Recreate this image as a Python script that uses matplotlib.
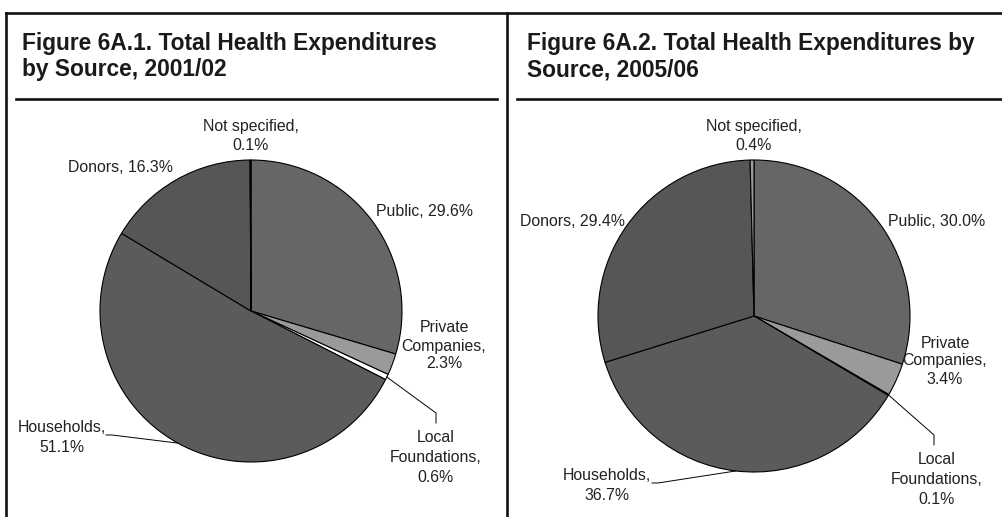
import numpy as np
import matplotlib
matplotlib.use("Agg")
import matplotlib.pyplot as plt

# Data (percent of total health expenditures)
sources = ["Public", "Private\nCompanies", "Local\nFoundations", "Households", "Donors", "Not specified"]
share_2001 = [29.6, 2.3, 0.6, 51.1, 16.3, 0.1]
share_2005 = [30.0, 3.4, 0.1, 36.7, 29.4, 0.4]
titles = ["Figure 6A.1. Total Health Expenditures\nby Source, 2001/02",
          "Figure 6A.2. Total Health Expenditures by\nSource, 2005/06"]
slice_colors = ["#666666", "#9a9a9a", "#ffffff", "#5b5b5b", "#565656", "#9a9a9a"]

W, H = 1002, 517
plt.rcParams['font.family'] = ['Liberation Sans', 'DejaVu Sans']

fig = plt.figure(figsize=(W / 100, H / 100), dpi=100)
ax = fig.add_axes([0, 0, 1, 1])


def Y(y):
    # image pixel row -> data y
    return H - y


def lines_text(x, ys, lines, size=11.4):
    for yy, s in zip(ys, lines):
        ax.text(x, Y(yy), s, ha="center", va="center", fontsize=size, color="#222222")


def edge_point(values, idx, cx, cy, r):
    # point on the rim at the middle of slice idx (clockwise from top)
    before = sum(values[:idx]) + values[idx] / 2
    ang = np.deg2rad(90 - 360 * before / sum(values))
    return cx + r * np.cos(ang), Y(cy) + r * np.sin(ang)


# pies
pies = [(share_2001, 251, 311, 151), (share_2005, 754, 316, 156)]
for vals, cx, cy, r in pies:
    ax.pie(vals, colors=slice_colors, startangle=90, counterclock=False,
           center=(cx, Y(cy)), radius=r,
           wedgeprops=dict(edgecolor="black", linewidth=0.8))

# frame lines
lw = 1.9
ax.plot([6, W], [Y(13), Y(13)], color="#111111", lw=lw)
ax.plot([6, 6], [Y(13), 0], color="#111111", lw=lw)
ax.plot([507, 507], [Y(13), 0], color="#111111", lw=lw)
ax.plot([16, 497], [Y(99), Y(99)], color="#111111", lw=lw)
ax.plot([517, W], [Y(99), Y(99)], color="#111111", lw=lw)

# titles
for x0, t in zip([22, 527], titles):
    for k, s in enumerate(t.split("\n")):
        ax.text(x0, Y(50 + 26 * k), s, ha="left", va="baseline",
                fontsize=16.4, fontweight="bold", color="#1a1a1a")

# labels, pie 1
lines_text(251, [127, 146], ["Not specified,", f"{share_2001[5]}%"])
lines_text(121, [167], [f"Donors, {share_2001[4]}%"])
lines_text(425, [211], [f"Public, {share_2001[0]}%"])
lines_text(444, [328, 346, 364], ["Private", "Companies,", f"{share_2001[1]}%"])
lines_text(436, [438, 458, 478], ["Local", "Foundations,", f"{share_2001[2]}%"])
lines_text(62, [428, 447], ["Households,", f"{share_2001[3]}%"])

# labels, pie 2
lines_text(754, [127, 146], ["Not specified,", f"{share_2005[5]}%"])
lines_text(573, [222], [f"Donors, {share_2005[4]}%"])
lines_text(937, [222], [f"Public, {share_2005[0]:.1f}%"])
lines_text(945, [343, 361, 379], ["Private", "Companies,", f"{share_2005[1]}%"])
lines_text(937, [460, 480, 500], ["Local", "Foundations,", f"{share_2005[2]}%"])
lines_text(607, [475, 495], ["Households,", f"{share_2005[3]}%"])

# leader lines
for vals, cx, cy, r, lx, ly, hx, hy in [(share_2001, 251, 311, 151, 436, 413, 106, 435),
                                        (share_2005, 754, 316, 156, 934, 435, 652, 483)]:
    px, py = edge_point(vals, 2, cx, cy, r)
    ax.plot([px, lx, lx], [py, Y(ly), Y(ly + 10)], color="black", lw=0.7)
    qx, qy = edge_point(vals, 3, cx, cy, r)
    ax.plot([hx, hx + 6, qx], [Y(hy), Y(hy), qy], color="black", lw=0.7)

ax.set_xlim(0, W)
ax.set_ylim(0, H)
ax.set_aspect("auto")
ax.axis("off")

fig.savefig("out.png", dpi=100)
